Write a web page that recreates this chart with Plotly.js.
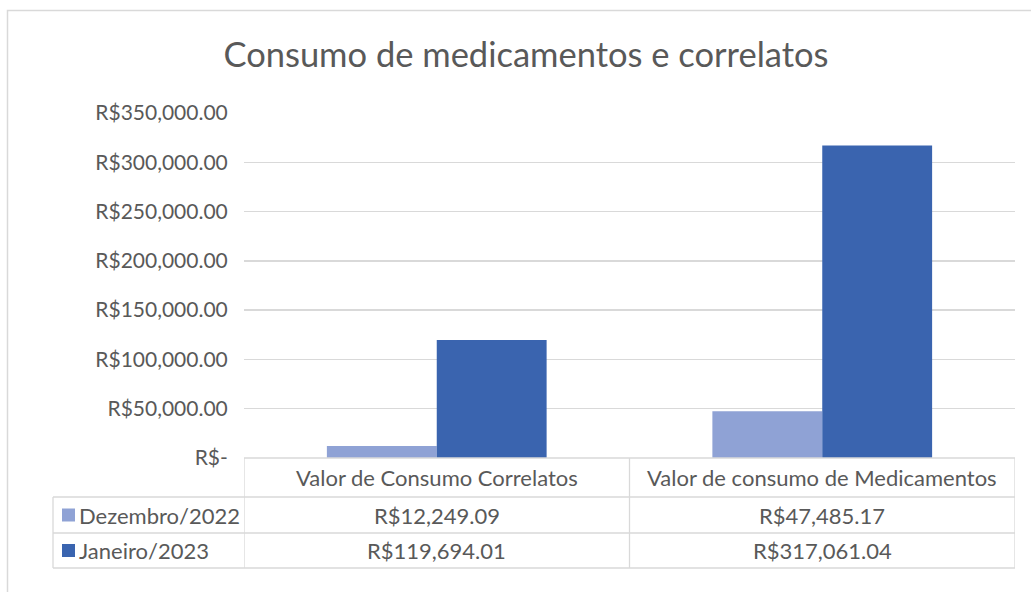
<!DOCTYPE html>
<html>
<head>
<meta charset="utf-8">
<script src="https://cdn.plot.ly/plotly-3.0.1.min.js"></script>
<style>html,body{margin:0;padding:0;background:#fff;}#chart{width:1031px;height:592px;}</style>
</head>
<body>
<div id="chart"></div>
<script>
// ---- data ----
const categories = ["Valor de Consumo Correlatos", "Valor de consumo de Medicamentos"];
const seriesNames = ["Dezembro/2022", "Janeiro/2023"];
const dezembro2022 = [12249.09, 47485.17];
const janeiro2023 = [119694.01, 317061.04];
const tickValues = [0, 50000, 100000, 150000, 200000, 250000, 300000, 350000];
const chartTitle = "Consumo de medicamentos e correlatos";

// ---- styling ----
const W = 1031, H = 592;
const M = {l: 244, r: 16, t: 113, b: 134};
const colors = ["#8FA2D5", "#3A64AF"];
const textColor = "#595959";
const gridColor = "#D9D9D9";
const FONT = "Lato, 'Open Sans', sans-serif";
const TABLE_FS = 22;

function money(v) {
  if (v === 0) return "R$-";
  return "R$" + v.toLocaleString("en-US", {minimumFractionDigits: 2, maximumFractionDigits: 2});
}
const tickText = tickValues.map(money);

const plotW = W - M.l - M.r, plotH = H - M.t - M.b;
const px = x => (x - M.l) / plotW;            // pixel x -> paper x
const py = y => (H - M.b - y) / plotH;        // pixel y -> paper y

const seriesValues = [dezembro2022, janeiro2023];
const traces = seriesValues.map((vals, i) => ({
  type: "bar",
  x: categories,
  y: vals,
  name: seriesNames[i],
  marker: {color: colors[i]},
  hoverinfo: "skip"
}));

// data table geometry (pixels)
const headerBottom = 497, row1Bottom = 533, row2Bottom = 568;
const tableLeft = 53;
const rowBottoms = [row1Bottom, row2Bottom];
const rowTops = [headerBottom, row1Bottom];

const shapes = [];
const line = (x0, y0, x1, y1, xref) => shapes.push({
  type: "line", xref: xref || "paper", yref: "paper",
  x0, y0, x1, y1, line: {color: gridColor, width: 1.3}, layer: "above"
});
// outer chart border
shapes.push({type: "rect", xref: "paper", yref: "paper",
  x0: px(7.5), x1: px(W + 20), y0: py(10.5), y1: py(H + 20),
  line: {color: gridColor, width: 1.5}, fillcolor: "rgba(0,0,0,0)", layer: "below"});
// header top (x axis line) across categories
line(-0.5, py(458), categories.length - 0.5, py(458), "x");
// header bottom + row lines
[headerBottom, row1Bottom, row2Bottom].forEach(y => line(px(tableLeft), py(y), 1, py(y)));
// vertical lines at category boundaries
for (let k = 0; k <= categories.length; k++) {
  line(k - 0.5, py(458), k - 0.5, py(row2Bottom), "x");
}
// left edge of series-name column
line(px(tableLeft), py(headerBottom), px(tableLeft), py(row2Bottom));

const annotations = [];
categories.forEach((c, j) => annotations.push({
  xref: "x", yref: "paper", x: j, y: py((458 + headerBottom) / 2),
  text: c, showarrow: false, xanchor: "center", yanchor: "middle",
  font: {family: FONT, size: TABLE_FS, color: textColor}
}));
seriesNames.forEach((name, i) => {
  const yc = py((rowTops[i] + rowBottoms[i]) / 2);
  shapes.push({type: "rect", xref: "paper", yref: "paper",
    x0: px(62), x1: px(75), y0: yc - 6.5 / plotH, y1: yc + 6.5 / plotH,
    fillcolor: colors[i], line: {width: 0}, layer: "above"});
  annotations.push({xref: "paper", yref: "paper", x: px(77), y: yc,
    text: name, showarrow: false, xanchor: "left", yanchor: "middle",
    font: {family: FONT, size: TABLE_FS, color: textColor}});
  seriesValues[i].forEach((v, j) => annotations.push({
    xref: "x", yref: "paper", x: j, y: yc,
    text: money(v), showarrow: false, xanchor: "center", yanchor: "middle",
    font: {family: FONT, size: TABLE_FS, color: textColor}
  }));
});

const layout = {
  width: W, height: H,
  margin: M,
  paper_bgcolor: "#FFFFFF", plot_bgcolor: "#FFFFFF",
  showlegend: false,
  title: {text: chartTitle, x: 526 / W, xanchor: "center", y: 1 - 55 / H, yanchor: "middle",
          font: {family: FONT, size: 34.5, color: textColor}},
  barmode: "group", bargap: 0.43, bargroupgap: 0,
  xaxis: {showticklabels: false, showgrid: false, zeroline: false, showline: false,
          ticks: "", range: [-0.5, categories.length - 0.5]},
  yaxis: {range: [0, 350000], tickvals: tickValues, ticktext: tickText,
          showgrid: true, gridcolor: gridColor, gridwidth: 1.3, zeroline: false, showline: false,
          ticks: "outside", ticklen: 11, tickcolor: "rgba(0,0,0,0)",
          tickfont: {family: FONT, size: 21, color: textColor}},
  shapes, annotations
};

Plotly.newPlot("chart", traces, layout, {displayModeBar: false, staticPlot: true});
</script>
</body>
</html>
